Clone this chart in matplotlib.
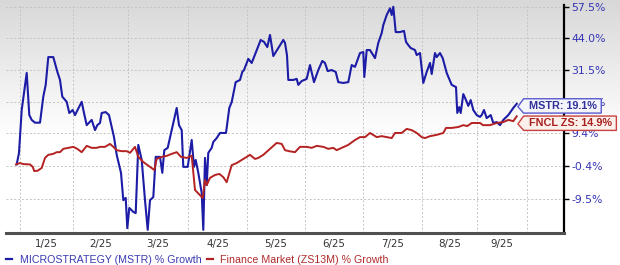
import numpy as np
import matplotlib
matplotlib.use("Agg")
import matplotlib.pyplot as plt
from matplotlib.path import Path
from matplotlib.lines import Line2D

# ---------------- data ----------------
# position along the time axis (chart units; month boundaries below)
mstr_t = [16.7, 19, 21.7, 26.7, 29.3, 31.7, 35, 40, 43.3, 45.7, 48.3, 53.3, 57.3, 60, 62.3,
          66.7, 69.3, 72.7, 75, 81.7, 84, 86.7, 91.7, 95, 97.3, 100, 101.7, 105.7, 109, 111.7,
          114, 116.7, 121, 123.3, 125.7, 127.3, 129.3, 133.3, 135.7, 138.3, 141.7, 145, 147.7,
          150, 153.3, 155.7, 160, 162.3, 164.3, 167.7, 173.3, 176.7, 179, 181.7, 183.3, 187.7,
          191.7, 194, 195.7, 198.3, 201.7, 203.3, 205, 206.7, 208.3, 211.7, 213.3, 216.7, 220,
          226, 229.3, 231.7, 235.7, 240, 242.3, 244, 248.3, 251.7, 260.7, 264, 267.3, 270, 273.3,
          278.3, 283.3, 285, 287, 288.3, 293.3, 296.7, 298.3, 301.7, 306.7, 310, 314, 318.3,
          322.3, 325, 327.7, 331.7, 335.7, 338.3, 343.3, 348.3, 351.7, 355, 360, 363.3, 364.3,
          366.7, 370, 375, 378.3, 381.7, 383.3, 386.7, 390, 391.7, 393.3, 395.7, 400, 404, 406,
          408.3, 410.7, 415, 416.7, 420, 423.3, 426.7, 430, 431.7, 435, 436.7, 440, 442.7, 446.7,
          451.7, 456, 457.3, 459.3, 460.7, 463.3, 466, 468.3, 470.7, 473.3, 476.7, 480, 481.7,
          484, 486.7, 490.7, 493.3, 496.7, 500, 503.3, 508.3, 513.3, 516.7]
mstr_growth = [0.0, 3.4, 17.0, 30.2, 15.3, 13.7, 12.8, 12.8, 21.6, 25.8, 36.3, 36.3, 30.7, 27.6, 21.6,
               19.8, 16.0, 17.0, 15.3, 19.8, 16.0, 12.0, 13.7, 10.4, 12.0, 12.7, 16.0, 16.3, 15.3, 11.4,
               8.2, 2.8, -2.4, -9.8, -9.2, -16.8, -11.8, -12.8, -13.1, 5.8, 1.3, -9.8, -17.2,
               -9.8, -9.0, 2.2, 2.2, -2.4, 4.2, 4.9, 12.7, 17.7, 12.0, 10.4, -0.7, -0.7,
               7.3, -0.7, 1.3, -2.4, -7.9, -17.2, 1.9, -5.8, 3.4, 4.9, 6.7, 7.9, 9.5,
               9.5, 17.7, 19.7, 26.8, 27.6, 30.6, 31.3, 35.6, 34.0, 43.2, 42.4, 40.3, 45.3, 36.7,
               39.9, 43.2, 42.0, 37.0, 27.6, 27.6, 28.0, 25.8, 27.2, 28.0, 33.2, 26.8, 31.3,
               34.8, 34.0, 30.9, 31.3, 30.6, 26.8, 26.5, 26.8, 33.2, 32.5, 37.9, 38.3, 28.7,
               39.1, 39.1, 35.9, 42.0, 46.1, 49.5, 53.9, 56.9, 53.9, 57.6, 46.5, 46.5, 47.0, 42.4,
               41.1, 39.9, 39.1, 37.1, 37.9, 26.5, 30.6, 34.0, 29.8, 37.9, 36.3, 37.9, 35.9, 30.2,
               25.8, 25.0, 16.0, 18.0, 16.0, 22.5, 20.4, 18.4, 20.4, 17.0, 15.3, 14.7, 15.3,
               17.0, 14.3, 15.3, 12.7, 13.0, 12.0, 13.7, 15.3, 17.7, 19.1]

fncl_t = [16, 20, 23.3, 30, 32.7, 34.3, 37.7, 41.7, 45, 48.3, 53.3, 56.7, 60, 63.3, 68.3, 73.3,
          77.3, 81.7, 86.7, 91.7, 96.7, 100, 105, 110, 113.3, 116.7, 121.7, 126.7, 130, 135,
          138.3, 143.3, 150, 154.3, 156.7, 161.7, 166.7, 171.7, 176.7, 181, 186.7, 191.7, 195,
          200, 202.7, 205, 206.7, 210, 215, 219.3, 223.3, 226.7, 231.7, 236.7, 241.7, 246.7,
          250, 255, 258.3, 263.3, 270, 276.7, 281.7, 285, 289, 295, 300, 306.7, 311.7, 316.7,
          323.3, 328.3, 333.3, 336.7, 341.7, 348.3, 355, 360, 365, 370, 376.7, 381.7, 386.7,
          391.7, 395, 401.7, 406.7, 411.7, 416.7, 421.7, 425, 430, 436.7, 443.3, 446, 451.7,
          458.3, 463.3, 467.3, 471.7, 476.7, 480, 483, 490, 496.7, 503.3, 508.3, 513.3, 516.7]
fncl_growth = [0.0, 0.4, 0.1, 0.0, -0.7, -1.9, -1.8, -1.0, 1.9, 2.8, 3.1, 3.6, 3.6, 4.6, 4.9, 5.2,
               4.6, 3.6, 5.5, 4.9, 4.9, 5.2, 5.2, 6.1, 5.2, 4.2, 3.9, 3.9, 3.4, 5.2,
               2.2, 0.7, -0.7, -1.6, 1.6, 2.2, 2.5, 3.1, 3.6, 2.2, 1.9, 2.5, -7.1,
               -8.5, -9.2, -4.4, -5.8, -3.8, -3.0, -2.7, -3.6, -5.0, -0.2, 0.4, 1.3, 2.2,
               2.8, 1.6, 1.9, 2.8, 4.6, 6.4, 6.1, 4.2, 3.9, 3.6, 5.2, 5.2, 4.9, 5.5,
               5.2, 4.6, 4.9, 4.2, 4.9, 5.8, 7.3, 8.2, 8.2, 9.5, 8.2, 8.5, 8.2,
               7.9, 9.5, 9.5, 10.8, 10.4, 9.5, 8.2, 7.9, 8.5, 8.9, 9.5, 11.1, 11.1,
               11.4, 12.0, 11.7, 12.7, 12.7, 12.7, 12.0, 12.0, 12.7, 13.0, 13.7, 13.3, 14.9]

month_starts = [20, 73, 128, 188, 247, 305, 363, 422, 477, 527]
month_labels = ["1/25", "2/25", "3/25", "4/25", "5/25", "6/25", "7/25", "8/25", "9/25"]
y_ticks = [-9.5, -0.4, 9.4, 19.9, 31.5, 44.0, 57.5]

mstr_name = "MICROSTRATEGY (MSTR) % Growth"
fncl_name = "Finance Market (ZS13M) % Growth"
mstr_tag = "MSTR: 19.1%"
fncl_tag = "FNCL ZS: 14.9%"

BLUE = "#1c1ca6"
RED = "#b52222"

# ---------------- figure ----------------
fig = plt.figure(figsize=(6.2, 2.65), dpi=100)

# background gradient
bg = fig.add_axes([0, 0, 1, 1], zorder=-10)
rows = 265
yy = np.arange(rows)
g = np.clip(216 + (255 - 216) * yy / 135.0, 0, 255) / 255.0
img = np.repeat(g[:, None], 4, axis=1)
bg.imshow(np.dstack([img, img, img]), aspect="auto", extent=[0, 1, 0, 1])
bg.set_axis_off()

ax = fig.add_axes([6 / 620, 32 / 265, 558 / 620, 228 / 265])
ax.set_facecolor("none")

def fwd(p):
    return np.log1p(np.asarray(p) / 100.0)

def inv(u):
    return np.expm1(np.asarray(u)) * 100.0

ax.set_yscale("function", functions=(fwd, inv))

ax.plot(mstr_t, mstr_growth, color=BLUE, lw=1.5, solid_joinstyle="round", zorder=3)
ax.plot(fncl_t, fncl_growth, color=RED, lw=1.4, solid_joinstyle="round", zorder=3.1)

ax.set_xlim(6, 564)
ax.set_ylim(-17.95, 58.4)

# grid
ax.set_xticks(month_starts)
ax.set_xticklabels([])
ax.tick_params(axis="x", which="major", length=0)
mids = [(a + b) / 2 for a, b in zip(month_starts[:-1], month_starts[1:])]
ax.set_xticks(mids, minor=True)
ax.set_xticklabels(month_labels, minor=True)
ax.tick_params(axis="x", which="minor", length=0, pad=4, labelsize=7.4, labelcolor="#333333")

ax.set_yticks(y_ticks)
ax.set_yticklabels([f"{v:.1f}%" for v in y_ticks])
ax.yaxis.set_minor_locator(matplotlib.ticker.NullLocator())
ax.yaxis.tick_right()
ax.tick_params(axis="y", which="major", length=3.5, width=1, color="black", pad=2,
               labelsize=7.8, labelcolor="#3434b4")
ax.grid(True, which="major", color="#c4c4c4", lw=0.7, ls=(0, (2, 2)))

for s in ["left", "top"]:
    ax.spines[s].set_visible(False)
ax.spines["right"].set_color("black")
ax.spines["right"].set_linewidth(1.6)
ax.spines["bottom"].set_color("#505050")
ax.spines["bottom"].set_linewidth(2.2)

# end tags
def tag_box(x0, y0, width, height, mutation_size):
    padx = mutation_size * 0.45
    pady = mutation_size * 0.2
    x0 -= padx
    y0 -= pady
    width += 2 * padx
    height += 2 * pady
    tip = height * 0.4
    verts = [(x0, y0), (x0 + width, y0), (x0 + width, y0 + height), (x0, y0 + height),
             (x0 - tip, y0 + height * 0.45), (x0, y0), (x0, y0)]
    codes = [Path.MOVETO] + [Path.LINETO] * 5 + [Path.CLOSEPOLY]
    return Path(verts, codes)

ax.annotate(mstr_tag, xy=(mstr_t[-1], mstr_growth[-1]), xytext=(8.5, -1.5),
            textcoords="offset points", ha="left", va="center", fontsize=7.8,
            fontweight="bold", family=["Liberation Sans", "DejaVu Sans"], color="#30309a",
            bbox=dict(boxstyle=tag_box, fc="#f4f4fb", ec="#5a5ad0", lw=1.0),
            annotation_clip=False, zorder=10)
ax.annotate(fncl_tag, xy=(fncl_t[-1], fncl_growth[-1]), xytext=(8.5, -5),
            textcoords="offset points", ha="left", va="center", fontsize=7.8,
            fontweight="bold", family=["Liberation Sans", "DejaVu Sans"], color="#a82020",
            bbox=dict(boxstyle=tag_box, fc="#fbf1ea", ec="#c84040", lw=1.0),
            annotation_clip=False, zorder=9)

# legend
handles = [Line2D([], [], color=BLUE, lw=1.6), Line2D([], [], color=RED, lw=1.6)]
leg = fig.legend(handles, [mstr_name, fncl_name], loc="lower left",
                 bbox_to_anchor=(0.0, -0.025), ncol=2, frameon=False,
                 handlelength=0.55, handletextpad=0.7, columnspacing=0.5,
                 prop={"family": ["Liberation Sans", "DejaVu Sans"], "size": 7.7},
                 borderaxespad=0.2)
for txt, c in zip(leg.get_texts(), ["#3a3ab0", "#b02a2a"]):
    txt.set_color(c)

fig.savefig("out.png", dpi=100)
